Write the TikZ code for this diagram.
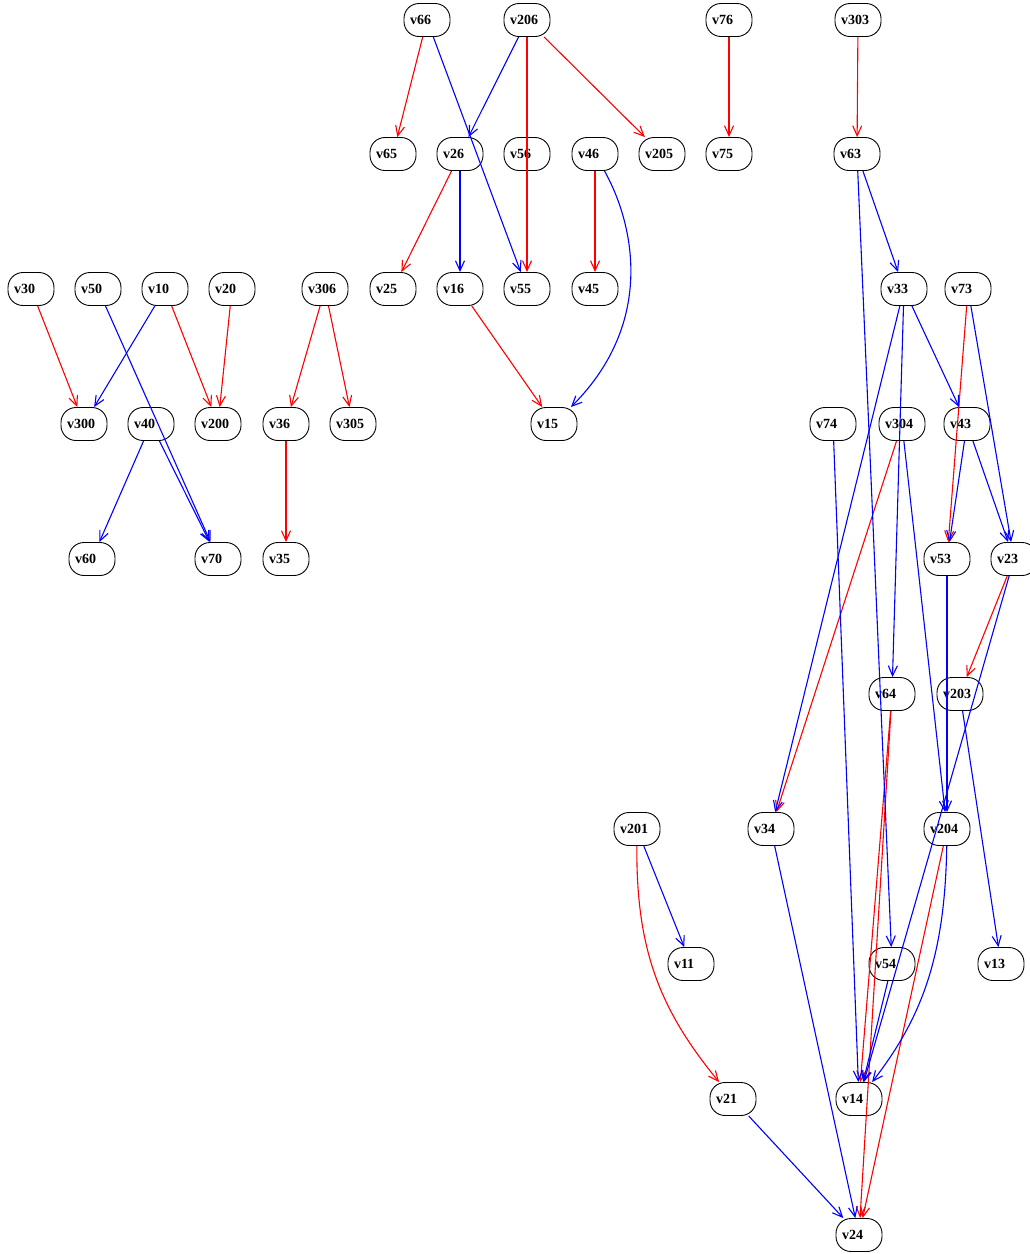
\documentclass[tikz,border=0pt]{standalone}
\usepackage{fontspec}
\setmainfont{Liberation Serif}
\usepackage{tikz}
\usetikzlibrary{arrows.meta}

\begin{document}
\begin{tikzpicture}[x=1pt,y=-1pt,>={Straight Barb[length=10pt,width=9pt]},
  font=\bfseries\fontsize{14}{16}\selectfont,
  vnode/.style={draw,line width=0.9pt,rounded corners=15pt,text width=34pt,inner xsep=6pt,inner ysep=0pt,minimum height=33pt,align=left},
  redge/.style={->,red,line width=1.1pt},
  bedge/.style={->,blue,line width=1.1pt}]
  \useasboundingbox (0,0) rectangle (1030,1254);
  % nodes, one row after the other
  \foreach \n/\x/\y in {v66/427/20,v206/527/20,v76/729/20,v303/858/20,
    v65/393/154,v26/460/154,v56/527/154,v46/595/154,v205/662/154,v75/729/154,v63/857/154,
    v30/31/289,v50/98/289,v10/165/289,v20/232/289,v306/325/289,v25/393/289,v16/460/289,v55/527/289,v45/595/289,v33/904/289,v73/968/289,
    v300/84/424,v40/151/424,v200/218/424,v36/286/424,v305/353/424,v15/554/424,v74/833/424,v304/902/424,v43/967/424,
    v60/92/559,v70/218/559,v35/286/559,v53/947/559,v23/1014/559,
    v64/892/694,v203/960/694,
    v201/637/829,v34/771/829,v204/947/829,
    v11/691/964,v54/892/964,v13/1001/964,
    v21/733/1099,v14/859/1099,
    v24/859/1235}
    \node[vnode] (\n) at (\x,\y) {\n};
  % red edges
  \foreach \a/\b in {v66/v65,v206/v55,v206/v205,v76/v75,v303/v63,v26/v25,v46/v45,v16/v15,
    v30/v300,v10/v200,v20/v200,v306/v36,v306/v305,v36/v35,v73/v53,v304/v34,v23/v203,
    v64/v14,v64/v24,v204/v24}
    \draw[redge] (\a) -- (\b);
  % blue edges
  \foreach \a/\b in {v66/v55,v206/v26,v26/v16,v63/v33,v63/v54,v33/v34,v33/v64,v33/v43,
    v73/v23,v43/v53,v43/v23,v74/v14,v304/v204,v53/v204,v23/v14,v203/v13,v201/v11,
    v34/v24,v21/v24,v54/v14,v10/v300,v50/v70,v40/v60,v40/v70}
    \draw[bedge] (\a) -- (\b);
  % bent ones
  \draw[bedge] (v46) .. controls (632,220) and (658,320) .. (v15);
  \draw[redge] (v201) .. controls (636,950) and (660,1010) .. (v21);
  \draw[bedge] (v204) .. controls (945,960) and (920,1020) .. (v14);
\end{tikzpicture}
\end{document}
